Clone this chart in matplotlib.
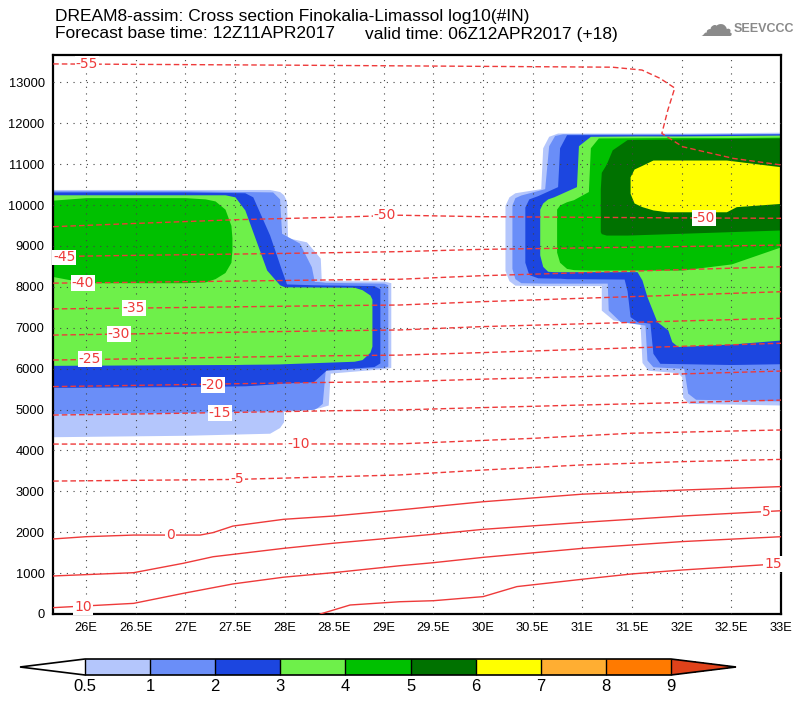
import matplotlib
matplotlib.use("Agg")
import matplotlib.pyplot as plt
from matplotlib.colors import ListedColormap, BoundaryNorm
from matplotlib.cm import ScalarMappable

SANS = ["Liberation Sans", "DejaVu Sans"]

# colour scale of log10(#IN)
levels = [0.5, 1, 2, 3, 4, 5, 6, 7, 8, 9]
level_colors = ["#b4c6fc", "#6a8ef8", "#1c46e0", "#6ef04a", "#00c000",
                "#007200", "#ffff00", "#ffae32", "#ff7a00"]
over_color = "#e0421a"

x_ticks = [26, 26.5, 27, 27.5, 28, 28.5, 29, 29.5, 30, 30.5, 31, 31.5, 32, 32.5, 33]
x_labels = ["26E", "26.5E", "27E", "27.5E", "28E", "28.5E", "29E", "29.5E",
            "30E", "30.5E", "31E", "31.5E", "32E", "32.5E", "33E"]
y_ticks = list(range(0, 14000, 1000))

# ---- western cloud: (lon, base m, top m) of each shaded level ----
w05_lon = [25.67, 27.0, 27.85, 27.95, 27.99, 27.99, 28.02, 28.03, 28.22, 28.36, 28.37, 28.44, 28.46, 29.0, 29.07]
w05_base = [4335, 4370, 4420, 4560, 4700, 4950, 4960, 4960, 4990, 5050, 5060, 5110, 5890, 6000, 6030]
w05_top = [10380, 10380, 10380, 10330, 10250, 10250, 10100, 9200, 9100, 8700, 8150, 8150, 8150, 8140, 8100]

w1_lon = [25.67, 27.0, 27.88, 27.95, 27.97, 28.15, 28.27, 28.3, 28.33, 28.38, 28.41, 29.0, 29.04]
w1_base = [4900, 4930, 4970, 4975, 4980, 4990, 5000, 5010, 5050, 5150, 5965, 6030, 6060]
w1_top = [10350, 10350, 10320, 10150, 9310, 9070, 8490, 8130, 8130, 8120, 8110, 8090, 8050]

w2_lon = [25.67, 27.0, 27.6, 27.68, 27.85, 27.97, 28.02, 28.29, 28.42, 28.9, 28.96]
w2_base = [5540, 5560, 5580, 5590, 5620, 5640, 5650, 5680, 5965, 6050, 6140]
w2_top = [10320, 10320, 10300, 10200, 9265, 8410, 8070, 8050, 8045, 8030, 7950]

w3_lon = [25.67, 27.4, 27.5, 27.6, 27.82, 27.95, 28.0, 28.7, 28.78, 28.86, 28.88]
w3_base = [6080, 6100, 6100, 6105, 6110, 6115, 6120, 6180, 6220, 6400, 6550]
w3_top = [10250, 10250, 10200, 9880, 8410, 8050, 8000, 7990, 7930, 7800, 7700]

w4_lon = [25.67, 26.0, 27.0, 27.2, 27.3, 27.4, 27.46, 27.47]
w4_base = [8250, 8100, 8100, 8120, 8200, 8350, 8600, 8900]
w4_top = [10120, 10180, 10180, 10150, 10100, 9900, 9500, 9200]

# ---- eastern cloud ----
e05_lon = [30.22, 30.26, 30.32, 30.58, 30.6, 30.66, 30.75, 31.19, 31.19, 31.31, 31.58, 31.6, 31.66, 31.96, 32.0, 32.01, 32.07, 33.0]
e05_base = [8400, 8150, 8040, 8030, 8030, 8030, 8030, 8030, 7430, 7190, 7100, 6150, 5960, 5900, 5800, 5300, 5150, 5110]
e05_top = [9990, 10200, 10300, 10400, 11400, 11680, 11760, 11760, 11760, 11760, 11760, 11760, 11760, 11760, 11760, 11760, 11760, 11780]

e1_lon = [30.29, 30.32, 30.38, 30.62, 30.66, 30.72, 30.8, 31.25, 31.26, 31.38, 31.63, 31.65, 31.71, 32.02, 32.06, 32.14, 33.0]
e1_base = [8450, 8200, 8100, 8090, 8090, 8090, 8090, 8090, 7430, 7150, 7065, 6210, 6045, 6005, 5400, 5250, 5210]
e1_top = [10000, 10180, 10245, 10400, 11450, 11700, 11740, 11740, 11740, 11740, 11740, 11740, 11740, 11740, 11740, 11740, 11750]

e2_lon = [30.42, 30.46, 30.55, 30.75, 30.77, 30.84, 31.42, 31.45, 31.48, 31.55, 31.68, 31.71, 31.78, 32.5, 33.0]
e2_base = [8600, 8300, 8220, 8210, 8210, 8200, 8190, 7900, 7270, 7150, 7110, 6375, 6130, 6100, 6120]
e2_top = [9950, 10150, 10230, 10450, 11400, 11720, 11720, 11720, 11720, 11720, 11720, 11720, 11720, 11730, 11740]

e3_lon = [30.57, 30.6, 30.65, 30.71, 30.94, 30.96, 31.08, 31.55, 31.6, 31.65, 31.75, 31.86, 31.9, 31.96, 32.5, 33.0]
e3_base = [8780, 8500, 8380, 8370, 8370, 8370, 8370, 8370, 8165, 7760, 7150, 6945, 6660, 6540, 6600, 6700]
e3_top = [9900, 10050, 10150, 10200, 10450, 11450, 11680, 11690, 11690, 11690, 11690, 11690, 11690, 11690, 11700, 11710]

e4_lon = [30.74, 30.77, 30.84, 30.91, 31.06, 31.08, 31.16, 32.0, 32.5, 33.0]
e4_base = [8850, 8600, 8450, 8420, 8410, 8410, 8410, 8410, 8560, 8980]
e4_top = [9900, 10000, 10080, 10130, 10330, 11400, 11640, 11650, 11650, 11660]

e5_lon = [31.18, 31.19, 31.24, 31.3, 31.45, 33.0]
e5_base = [9350, 9300, 9265, 9265, 9265, 9390]
e5_top = [10400, 10800, 11000, 11350, 11600, 11640]

e6_lon = [31.48, 31.52, 31.6, 31.71, 31.85, 32.45, 32.55, 33.0]
e6_base = [10285, 10050, 9960, 9880, 9835, 9835, 9960, 10040]
e6_top = [10690, 10880, 10970, 11100, 11100, 11100, 11070, 10935]

# ---- isotherms (deg C), height in m ----
iso_m55_lon = [25.67, 28.0, 30.0, 31.3, 31.6, 31.78, 31.93, 31.86, 31.8, 32.01, 32.52, 33.0]
iso_m55_h = [13450, 13420, 13390, 13370, 13300, 13100, 12860, 12320, 11750, 11425, 11140, 10980]

upper_lon = [25.67, 26.5, 27.5, 28.5, 29.16, 29.97, 31.0, 32.0, 33.0]
iso_m50_h = [9470, 9550, 9640, 9700, 9750, 9715, 9700, 9685, 9675]
iso_m45_h = [8740, 8770, 8800, 8835, 8860, 8915, 8950, 8985, 9020]
iso_m40_h = [8090, 8110, 8140, 8170, 8185, 8270, 8345, 8420, 8490]
iso_m35_h = [7460, 7480, 7510, 7540, 7555, 7635, 7720, 7800, 7880]
iso_m30_h = [6820, 6850, 6890, 6925, 6945, 7025, 7095, 7165, 7230]
iso_m25_h = [6210, 6240, 6280, 6315, 6330, 6390, 6470, 6545, 6620]
iso_m20_h = [5560, 5590, 5630, 5665, 5680, 5740, 5805, 5870, 5940]
iso_m15_h = [4865, 4890, 4930, 4970, 4990, 5045, 5110, 5170, 5230]

iso_m10_lon = [25.67, 27.5, 29.16, 30.5, 31.5, 33.0]
iso_m10_h = [4155, 4155, 4160, 4295, 4420, 4500]
iso_m5_lon = [25.67, 27.5, 29.16, 30.0, 31.0, 32.0, 33.0]
iso_m5_h = [3250, 3290, 3400, 3520, 3645, 3725, 3780]
iso_0_lon = [25.67, 26.0, 26.48, 27.15, 27.28, 27.48, 27.99, 28.49, 29.16, 30.0, 31.0, 32.0, 33.0]
iso_0_h = [1835, 1890, 1930, 1930, 1990, 2150, 2315, 2395, 2545, 2745, 2930, 3030, 3115]
iso_5_lon = [25.67, 26.48, 26.98, 27.28, 27.99, 28.49, 29.16, 29.5, 30.0, 31.0, 32.0, 33.0]
iso_5_h = [930, 1010, 1240, 1400, 1605, 1730, 1875, 1950, 2070, 2240, 2395, 2525]
iso_10_lon = [25.67, 26.48, 26.98, 27.48, 27.99, 28.49, 29.16, 29.5, 30.0, 31.0, 32.0, 33.0]
iso_10_h = [155, 260, 505, 735, 900, 1010, 1180, 1255, 1385, 1605, 1770, 1890]
iso_15_lon = [28.36, 28.66, 29.16, 29.5, 30.0, 30.34, 31.0, 31.5, 32.0, 33.0]
iso_15_h = [0, 220, 300, 325, 425, 670, 850, 980, 1075, 1230]

iso_labels = ["-55", "-50", "-50", "-45", "-40", "-35", "-30", "-25", "-20", "-15",
              "-10", "-5", "0", "10", "5", "15"]
iso_label_lon = [26.01, 29.01, 32.22, 25.78, 25.97, 26.48, 26.33, 26.04, 27.28, 27.35,
                 28.14, 27.52, 26.85, 25.97, 32.85, 32.92]
iso_label_h = [13440, 9750, 9680, 8720, 8090, 7480, 6840, 6230, 5600, 4910,
               4155, 3300, 1920, 170, 2500, 1215]

fig = plt.figure(figsize=(8, 7.04), dpi=100)
ax = fig.add_axes([53 / 800, 90 / 704, 728 / 800, 559 / 704])

west = [(w05_lon, w05_base, w05_top), (w1_lon, w1_base, w1_top), (w2_lon, w2_base, w2_top),
        (w3_lon, w3_base, w3_top), (w4_lon, w4_base, w4_top)]
east = [(e05_lon, e05_base, e05_top), (e1_lon, e1_base, e1_top), (e2_lon, e2_base, e2_top),
        (e3_lon, e3_base, e3_top), (e4_lon, e4_base, e4_top), (e5_lon, e5_base, e5_top),
        (e6_lon, e6_base, e6_top)]
for layers in (west, east):
    for i, (lon, base, top) in enumerate(layers):
        ax.fill_between(lon, base, top, color=level_colors[i], lw=0, zorder=1)

red = "#ee3a3a"
dashed = (0, (4, 2.2))
neg_lines = [(iso_m55_lon, iso_m55_h), (upper_lon, iso_m50_h), (upper_lon, iso_m45_h),
             (upper_lon, iso_m40_h), (upper_lon, iso_m35_h), (upper_lon, iso_m30_h),
             (upper_lon, iso_m25_h), (upper_lon, iso_m20_h), (upper_lon, iso_m15_h),
             (iso_m10_lon, iso_m10_h), (iso_m5_lon, iso_m5_h)]
pos_lines = [(iso_0_lon, iso_0_h), (iso_5_lon, iso_5_h), (iso_10_lon, iso_10_h),
             (iso_15_lon, iso_15_h)]
for lon, h in neg_lines:
    ax.plot(lon, h, color=red, lw=1.0, ls=dashed, zorder=3)
for lon, h in pos_lines:
    ax.plot(lon, h, color=red, lw=1.0, zorder=3)

for txt, lx, ly in zip(iso_labels, iso_label_lon, iso_label_h):
    ax.text(lx, ly, txt, color=red, fontsize=10, family="DejaVu Sans",
            ha="center", va="center", zorder=4,
            bbox=dict(facecolor="white", edgecolor="none", pad=0.6))

ax.set_xlim(25.668, 33.0)
ax.set_ylim(0, 13668)
ax.set_xticks(x_ticks)
ax.set_xticklabels(x_labels)
ax.set_yticks(y_ticks)
ax.set_yticklabels([str(v) for v in y_ticks])
ax.tick_params(length=0, pad=6, labelsize=9.3)
for lab in ax.get_xticklabels() + ax.get_yticklabels():
    lab.set_family(SANS)
ax.grid(True, color="#444444", lw=0.8, ls=(0, (1, 5)))
ax.set_axisbelow(False)
for sp in ax.spines.values():
    sp.set_linewidth(1.6)

fig.text(55 / 800, 1 - 16 / 704, "DREAM8-assim: Cross section Finokalia-Limassol log10(#IN)",
         family=SANS, fontsize=12.5, va="center", ha="left")
fig.text(55 / 800, 1 - 34 / 704, "Forecast base time: 12Z11APR2017", family=SANS,
         fontsize=12.5, va="center", ha="left")
fig.text(365 / 800, 1 - 34 / 704, "valid time: 06Z12APR2017 (+18)", family=SANS,
         fontsize=12.5, va="center", ha="left")
fig.text(716 / 800, 1 - 27 / 704, "\u2601", family="DejaVu Sans", fontsize=24,
         color="#8a8a8a", ha="center", va="center")
fig.text(764 / 800, 1 - 29 / 704, "SEEVCCC", family=SANS, fontsize=9,
         weight="bold", color="#8a8a8a", ha="center", va="center")

cmap = ListedColormap(level_colors)
cmap.set_under("white")
cmap.set_over(over_color)
norm = BoundaryNorm(levels, cmap.N)
cax = fig.add_axes([20 / 800, 29 / 704, 716 / 800, 16 / 704])
cb = fig.colorbar(ScalarMappable(norm=norm, cmap=cmap), cax=cax, orientation="horizontal",
                  extend="both", extendfrac=0.111, drawedges=True, ticks=levels)
cb.set_ticklabels(["0.5", "1", "2", "3", "4", "5", "6", "7", "8", "9"])
cb.outline.set_linewidth(1.2)
cb.dividers.set_linewidth(1.0)
cax.tick_params(length=0, pad=3, labelsize=12)
for lab in cax.get_xticklabels():
    lab.set_family(SANS)

fig.savefig("out.png", dpi=100)
